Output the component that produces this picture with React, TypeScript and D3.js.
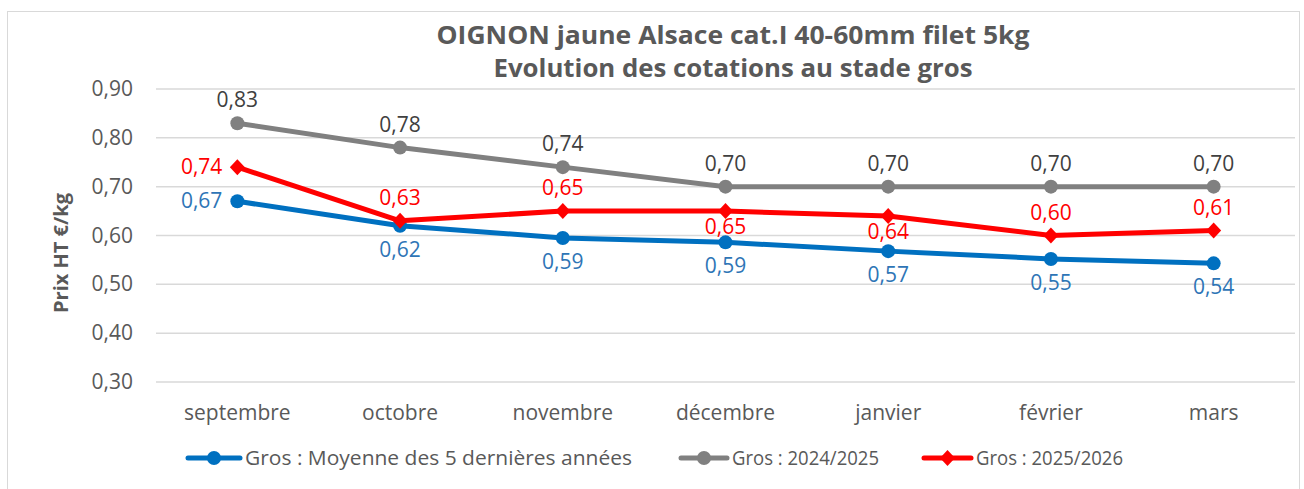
import * as d3 from "d3";

const months = ["septembre", "octobre", "novembre", "décembre", "janvier", "février", "mars"];
const moyenne5ans = [0.67, 0.62, 0.595, 0.586, 0.568, 0.552, 0.543];
const gros2425 = [0.83, 0.78, 0.74, 0.70, 0.70, 0.70, 0.70];
const gros2526 = [0.74, 0.63, 0.65, 0.65, 0.64, 0.60, 0.61];
const yTicks = [0.3, 0.4, 0.5, 0.6, 0.7, 0.8, 0.9];

const FONT = "'Open Sans', 'Liberation Sans', sans-serif";

// label placement: "above" | "below" | "left"
const series = [
  { name: "Gros : Moyenne des 5 dernières années", values: moyenne5ans, color: "#0070C0", labelColor: "#2E75B6", marker: "circle", below: 31, pos: ["left", "below", "below", "below", "below", "below", "below"] },
  { name: "Gros : 2024/2025", values: gros2425, color: "#808080", labelColor: "#404040", marker: "circle", below: 31, pos: ["above", "above", "above", "above", "above", "above", "above"] },
  { name: "Gros : 2025/2026", values: gros2526, color: "#FF0000", labelColor: "#FF0000", marker: "diamond", below: 23, pos: ["left", "above", "above", "below", "below", "above", "above"] },
];

const fmt = (v: number) => v.toFixed(2).replace(".", ",");

export default function App() {
  const W = 1304, H = 489;
  const x = d3.scaleBand().domain(months).range([156, 1295]);
  const y = d3.scaleLinear().domain([0.3, 0.9]).range([382, 89]);
  const cx = (m: string) => (x(m) ?? 0) + x.bandwidth() / 2;
  const lineGen = d3.line<number>().x((_, i) => cx(months[i])).y((v) => y(v));

  const marker = (kind: string, px: number, py: number, color: string, key: string) =>
    kind === "circle" ? (
      <circle key={key} cx={px} cy={py} r={7} fill={color} />
    ) : (
      <path key={key} d={`M${px},${py - 8}L${px + 7.5},${py}L${px},${py + 8}L${px - 7.5},${py}Z`} fill={color} />
    );

  const legendItems = [
    { s: series[0], x0: 188, len: 52, tw: 387 },
    { s: series[1], x0: 681, len: 46, tw: 147 },
    { s: series[2], x0: 924, len: 47, tw: 147 },
  ];

  return (
    <svg width={W} height={H} style={{ position: "absolute", left: 0, top: 0, fontFamily: FONT }}>
      <rect x={0} y={0} width={W} height={H} fill="#fff" />
      <rect x={7.5} y={11.5} width={W - 12} height={H} fill="none" stroke="#d9d9d9" strokeWidth={1} />

      <text x={733} y={44} textAnchor="middle" fontSize={25} fontWeight="bold" fill="#595959" textLength={593} lengthAdjust="spacingAndGlyphs">
        OIGNON jaune Alsace cat.I 40-60mm filet 5kg
      </text>
      <text x={733} y={77} textAnchor="middle" fontSize={25} fontWeight="bold" fill="#595959" textLength={479} lengthAdjust="spacingAndGlyphs">
        Evolution des cotations au stade gros
      </text>

      {yTicks.map((t) => (
        <g key={t}>
          <line x1={156} x2={1295} y1={y(t)} y2={y(t)} stroke="#d9d9d9" strokeWidth={1.5} />
          <text x={133} y={y(t) + 7} textAnchor="end" fontSize={21} fill="#595959">
            {fmt(t)}
          </text>
        </g>
      ))}

      <text transform={`translate(68,253) rotate(-90)`} textAnchor="middle" fontSize={20} fontWeight="bold" fill="#595959">
        Prix HT €/kg
      </text>

      {months.map((m) => (
        <text key={m} x={cx(m)} y={420} textAnchor="middle" fontSize={21} fill="#595959">
          {m}
        </text>
      ))}

      {series.map((s) => (
        <g key={s.name}>
          <path d={lineGen(s.values) ?? ""} fill="none" stroke={s.color} strokeWidth={5} strokeLinejoin="round" />
          {s.values.map((v, i) => marker(s.marker, cx(months[i]), y(v), s.color, `${s.name}-${i}`))}
        </g>
      ))}

      {series.map((s) =>
        s.values.map((v, i) => {
          const px = cx(months[i]);
          const py = y(v);
          const p = s.pos[i];
          const tx = p === "left" ? px - 15 : px;
          const ty = p === "above" ? py - 16 : p === "below" ? py + s.below : py + 7;
          return (
            <text key={`${s.name}-l${i}`} x={tx} y={ty} textAnchor={p === "left" ? "end" : "middle"} fontSize={21} fill={s.labelColor}>
              {fmt(v)}
            </text>
          );
        })
      )}

      {legendItems.map(({ s, x0, len, tw }) => (
        <g key={s.name}>
          <line x1={x0} x2={x0 + len} y1={458} y2={458} stroke={s.color} strokeWidth={5} strokeLinecap="round" />
          {marker(s.marker, x0 + len / 2, 458, s.color, s.name + "-leg")}
          <text x={x0 + len + 5} y={465} fontSize={20} fill="#595959" textLength={tw} lengthAdjust="spacingAndGlyphs">
            {s.name}
          </text>
        </g>
      ))}
    </svg>
  );
}
